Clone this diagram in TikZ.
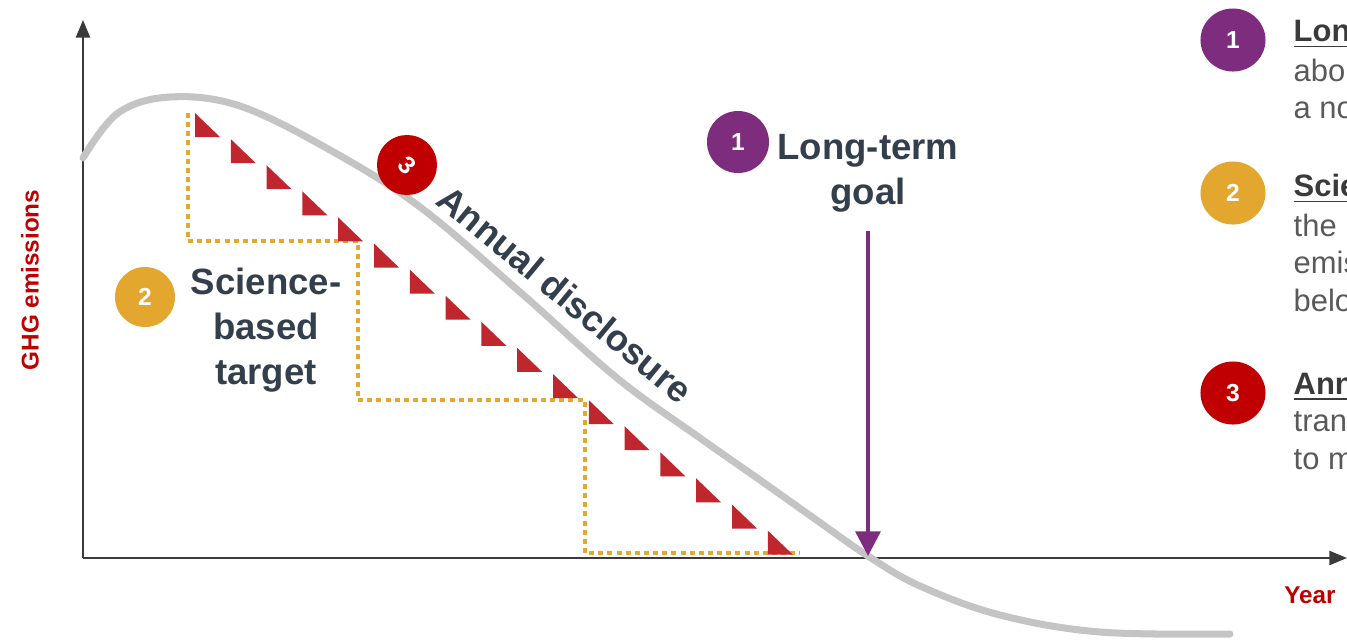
\documentclass[tikz,border=0pt]{standalone}
\usepackage{fontspec}
\setmainfont{Liberation Sans}
\usetikzlibrary{arrows.meta,positioning,shapes.geometric}
\definecolor{axisgray}{HTML}{3A3A3A}
\definecolor{curvegray}{HTML}{C4C4C4}
\definecolor{stepgold}{HTML}{E3A82E}
\definecolor{triared}{HTML}{C0262D}
\definecolor{badgepurple}{HTML}{7D2C7E}
\definecolor{badgegold}{HTML}{E3A730}
\definecolor{badgered}{HTML}{C00000}
\definecolor{labelred}{HTML}{C00000}
\definecolor{slate}{HTML}{333F4C}
\definecolor{bodygray}{HTML}{595959}

\begin{document}
\begin{tikzpicture}[x=0.01cm,y=-0.01cm,
    every node/.append style={inner sep=0pt},
    axisline/.style={draw=axisgray,line width=0.6pt,-{Triangle[length=5pt,width=4pt]}},
    curveline/.style={draw=curvegray,line width=2pt,line cap=round},
    stairs/.style={draw=stepgold,line width=1.4pt,dash pattern=on 1.4pt off 1.2pt},
    tri/.style={fill=triared},
    badge/.style={circle,minimum size=0.6cm,text=white,font=\bfseries\fontsize{7}{8}\selectfont},
    keybadge/.style={ellipse,minimum width=0.65cm,minimum height=0.63cm,text=white,font=\bfseries\fontsize{7}{8}\selectfont},
    biglabel/.style={text=slate,font=\bfseries\fontsize{10.4}{12.7}\selectfont,align=center},
    axislabel/.style={text=labelred,font=\bfseries\fontsize{6.9}{8}\selectfont},
    keyhead/.style={anchor=base west,text=axisgray,font=\bfseries\fontsize{8.8}{10}\selectfont},
    keybody/.style={anchor=base west,text=bodygray,font=\fontsize{8.8}{10}\selectfont},
    goalarrow/.style={draw=badgepurple,line width=1.2pt,-{Triangle[length=7pt,width=7pt]}}]
  \useasboundingbox (0,0) rectangle (1347,641);

  % axes
  \coordinate (origin) at (83,558);
  \coordinate (ytop) at (83,20);
  \coordinate (xend) at (1347,558);
  \draw[axisline] (origin) -- (ytop);
  \draw[axisline] (origin) -- (xend);
  \node[axislabel,rotate=90] (ylab) at (30,280) {GHG emissions};
  \node[axislabel] (xlab) at (1310,595) {Year};

  % emissions curve
  \draw[curveline] plot[smooth,tension=0.6] coordinates {(83,158) (118,113) (170,97)
    (240,106) (330,150) (420,207) (520,292) (617,378) (700,438) (760,480)
    (815,519) (868,556) (920,586) (1000,615) (1100,632) (1230,634)};

  % science-based target steps
  \draw[stairs] (188,113) -- (188,241) -- (358,241) -- (358,400) -- (585,400)
    -- (585,553) -- (800,553);

  % annual triangles
  \foreach \i in {0,...,16}
    \fill[tri] ({195+35.8*\i},{113+26.1*\i}) -- ++(0,24) -- ++(25,0) -- cycle;

  % callouts
  \node[badge,fill=badgegold] (b2) at (145,297) {2};
  \node[biglabel] (sbt) at (266,330) {Science-\\based\\target};

  \node[badge,fill=badgered,rotate=-45] (b3) at (407,165) {3};
  \node[biglabel,rotate=-39.6] (annual) at (565,294) {Annual disclosure};

  \node[badge,fill=badgepurple,minimum size=0.62cm] (b1) at (738,142) {1};
  \node[biglabel] (goal) at (868,173) {Long-term\\goal};
  \coordinate (zero) at (868,556);
  \draw[goalarrow] ([yshift=-0.18cm]goal.south) -- (zero);

  % key
  \node[keybadge,fill=badgepurple] (k1) at (1233,40) {1};
  \node[keyhead] (k1a) at (1293,41) {\underline{Lon}};
  \node[keybody] (k1b) at (1293,81) {abo};
  \node[keybody] (k1c) at (1293,118) {a no};

  \node[keybadge,fill=badgegold] (k2) at (1233,193) {2};
  \node[keyhead] (k2a) at (1293,196) {\underline{Scie}};
  \node[keybody] (k2b) at (1293,236) {the};
  \node[keybody] (k2c) at (1293,273) {emis};
  \node[keybody] (k2d) at (1293,311) {belo};

  \node[keybadge,fill=badgered] (k3) at (1233,393) {3};
  \node[keyhead] (k3a) at (1293,394) {\underline{Ann}};
  \node[keybody] (k3b) at (1293,431) {tran};
  \node[keybody] (k3c) at (1293,469) {to m};
\end{tikzpicture}
\end{document}
